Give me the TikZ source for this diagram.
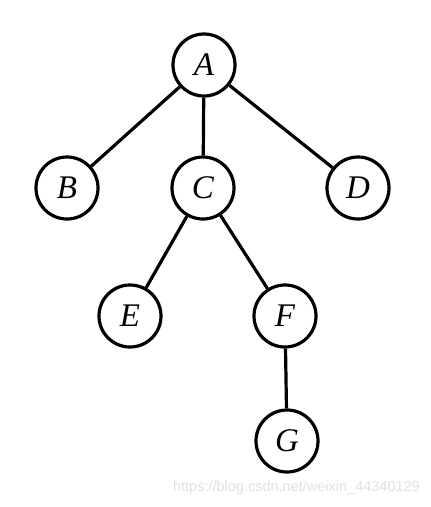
\documentclass[tikz,border=0pt]{standalone}
\usepackage{fontspec}
\setmainfont{Liberation Serif}
\newfontfamily\wmfont{Liberation Sans}
\begin{document}
\begin{tikzpicture}[x=1pt,y=-1pt,
  vert/.style={draw,circle,line width=3.2pt,minimum size=62pt,inner sep=0pt,font=\fontsize{33}{33}\selectfont\itshape},
  edge/.style={line width=3.2pt}]
\useasboundingbox (0,0) rectangle (431,507);
\node[vert] (A) at (204,65) {A};
\node[vert] (B) at (67,188) {B};
\node[vert] (C) at (203,188) {C};
\node[vert] (D) at (358,188) {D};
\node[vert] (E) at (130,316) {E};
\node[vert] (F) at (285,316) {F};
\node[vert] (G) at (287,441) {G};
\draw[edge] (A) -- (B);
\draw[edge] (A) -- (C);
\draw[edge] (A) -- (D);
\draw[edge] (C) -- (E);
\draw[edge] (C) -- (F);
\draw[edge] (F) -- (G);
\node[text=black!12,font=\wmfont\fontsize{14.5}{14.5}\selectfont,anchor=east,inner sep=0pt] (wm) at (420,488) {https://blog.csdn.net/weixin\_44340129};
\end{tikzpicture}
\end{document}
